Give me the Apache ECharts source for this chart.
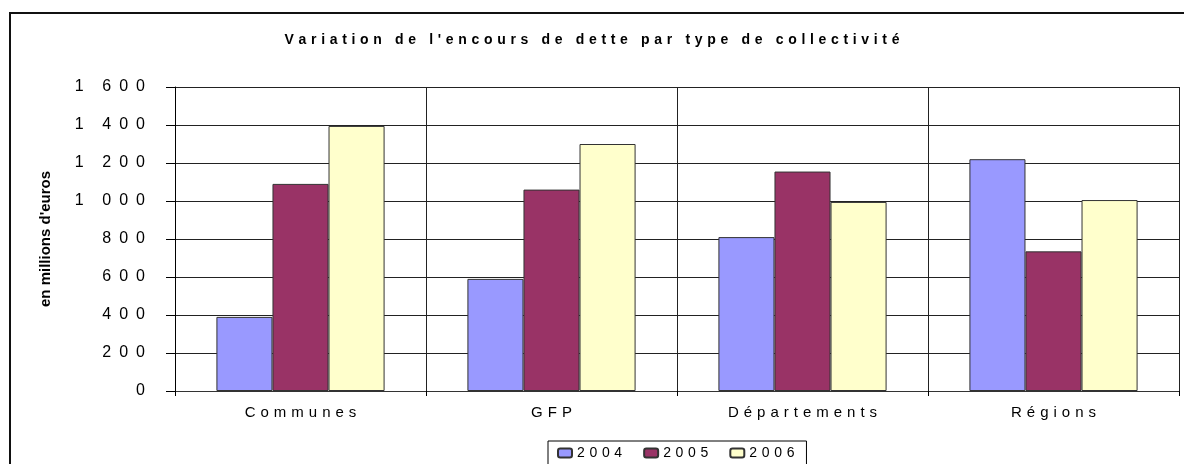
<!DOCTYPE html>
<html>
<head>
<meta charset="utf-8">
<script src="https://cdn.jsdelivr.net/npm/echarts@6/dist/echarts.min.js"></script>
<style>
  html, body { margin: 0; padding: 0; background: #fff; }
  #chart { width: 1184px; height: 464px; }
</style>
</head>
<body>
<div id="chart"></div>
<script>
// données du graphique
var titleText = "Variation de l'encours de dette par type de collectivité";
var yName = "en millions d'euros";
var categories = ['Communes', 'GFP', 'Départements', 'Régions'];
var years = ['2004', '2005', '2006'];
var values2004 = [390, 590, 810, 1220];
var values2005 = [1090, 1060, 1155, 735];
var values2006 = [1395, 1300, 995, 1005];
var yTicks = [0, 200, 400, 600, 800, 1000, 1200, 1400, 1600];

var colors = ['#9999FF', '#993366', '#FFFFCC'];
var font = '"Liberation Sans", Arial, sans-serif';

// texte espacé comme dans Excel
function spaced(s, sp) {
    return String(s).split('').join(sp);
}
function yLabel(v) {
    var s = String(v).replace(/\B(?=(\d{3})+(?!\d))/g, '\u2006');
    return spaced(s, '\u2002');
}

var myChart = '';
var option = '';

window.onload = function () {
    myChart = echarts.init(document.getElementById('chart'), null, { renderer: 'canvas' });

    var seriesData = [values2004, values2005, values2006];
    var series = [];
    for (var i = 0; i < years.length; i++) {
        series.push({
            name: years[i],
            type: 'bar',
            data: seriesData[i],
            barGap: 0,
            barCategoryGap: '33%',
            itemStyle: {
                color: colors[i],
                borderColor: '#333',
                borderWidth: 1
            },
            emphasis: { disabled: true }
        });
    }

    option = {
        animation: false,
        backgroundColor: '#fff',
        textStyle: { fontFamily: font },
        title: {
            text: spaced(titleText, '\u2004'),
            left: 'center',
            top: 33,
            padding: 0,
            textStyle: {
                fontFamily: font,
                fontSize: 14,
                fontWeight: 'bold',
                color: '#000'
            }
        },
        graphic: [{
            type: 'rect',
            z: -1,
            shape: { x: 10, y: 13, width: 1200, height: 480 },
            style: { fill: 'none', stroke: '#111', lineWidth: 2 }
        }],
        legend: {
            data: years,
            left: 548,
            top: 441,
            padding: [5, 12, 8, 9],
            itemGap: 21,
            itemWidth: 14,
            itemHeight: 9,
            borderColor: '#000',
            borderWidth: 1,
            borderRadius: 0,
            formatter: function (name) { return spaced(name, '\u2004'); },
            textStyle: { fontFamily: font, fontSize: 14, color: '#000' }
        },
        grid: {
            left: 175,
            right: 5,
            top: 87,
            bottom: 73,
            containLabel: false
        },
        xAxis: {
            type: 'category',
            data: categories,
            axisLine: { lineStyle: { color: '#333', width: 1 } },
            axisTick: { show: true, inside: false, length: 5, lineStyle: { color: '#000' } },
            axisLabel: {
                margin: 14,
                fontSize: 15,
                color: '#000',
                fontFamily: font,
                formatter: function (v) { return spaced(v, '\u2004'); }
            },
            splitLine: { show: true, lineStyle: { color: '#222', width: 1 } }
        },
        yAxis: {
            type: 'value',
            min: yTicks[0],
            max: yTicks[yTicks.length - 1],
            interval: 200,
            name: yName,
            nameLocation: 'middle',
            nameRotate: 90,
            nameGap: 122,
            nameTextStyle: {
                fontFamily: font,
                fontSize: 15,
                fontWeight: 'bold',
                color: '#000'
            },
            axisLine: { show: true, lineStyle: { color: '#000', width: 1 } },
            axisTick: { show: true, inside: false, length: 9, lineStyle: { color: '#000' } },
            axisLabel: {
                margin: 30,
                fontSize: 16,
                color: '#000',
                fontFamily: font,
                formatter: yLabel
            },
            splitLine: { show: true, lineStyle: { color: '#222', width: 1 } }
        },
        series: series
    };

    myChart.setOption(option);
};
</script>
</body>
</html>
